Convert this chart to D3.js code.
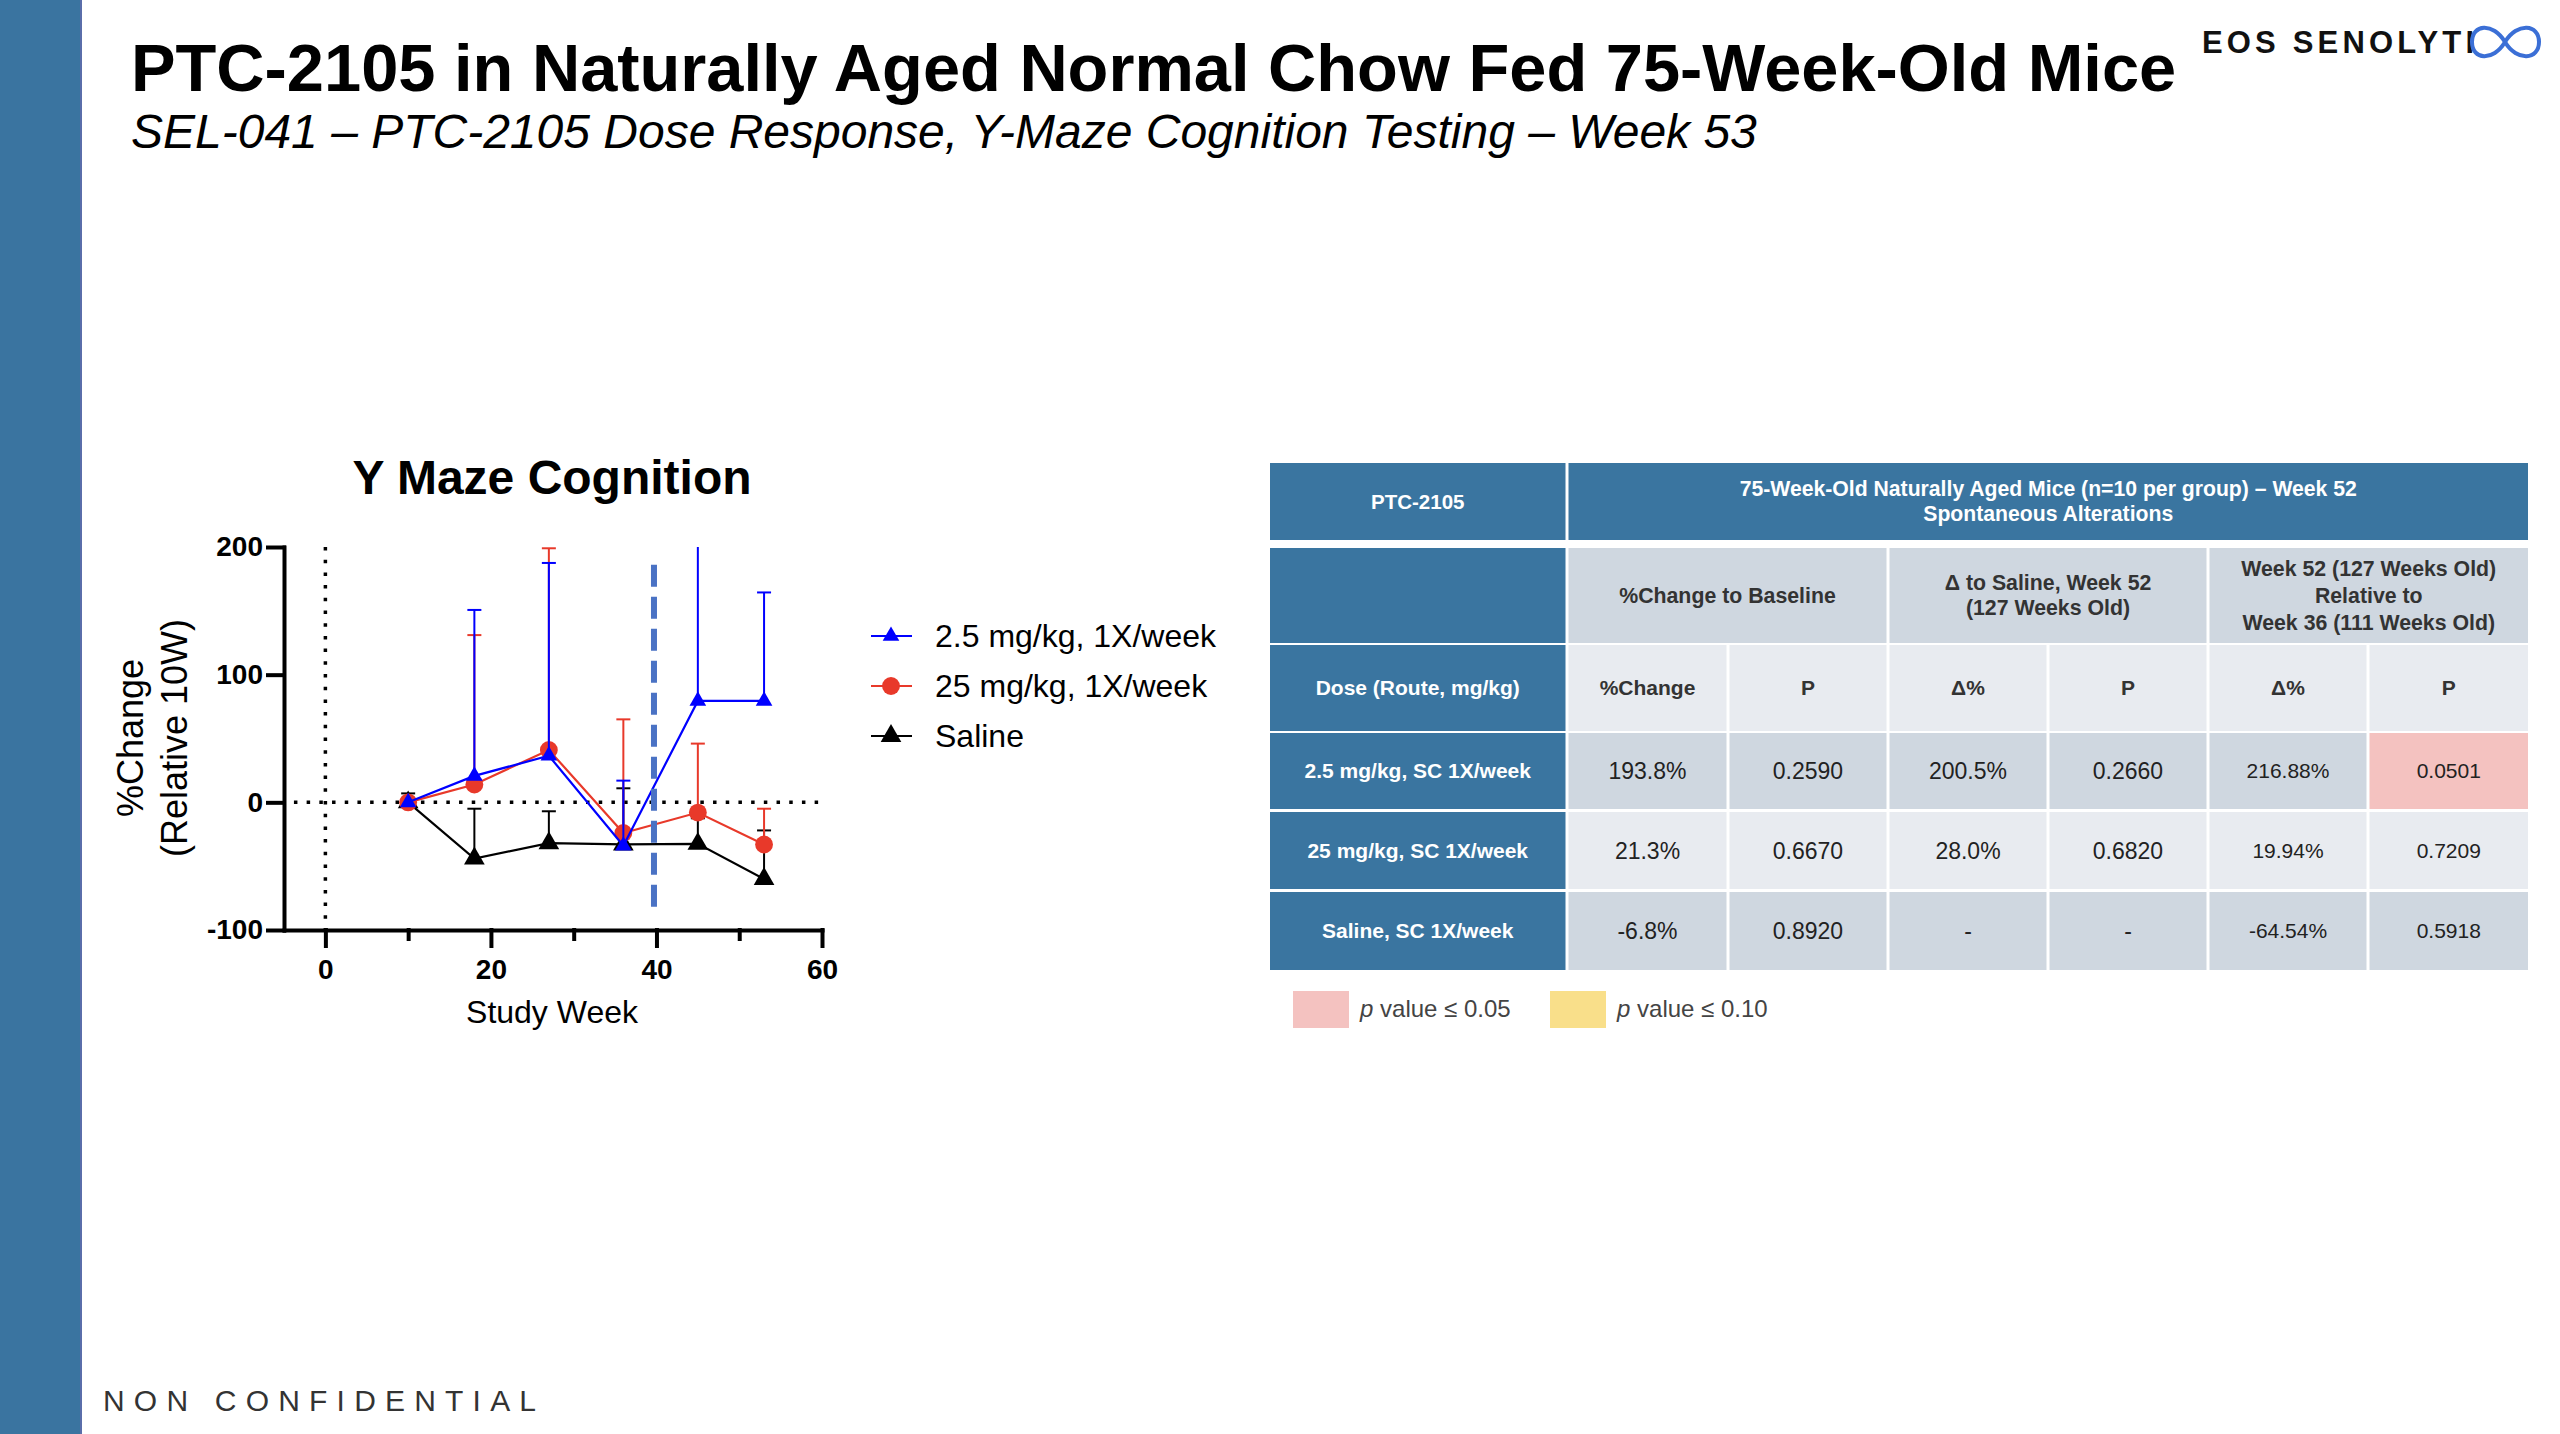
<!DOCTYPE html>
<html>
<head>
<meta charset="utf-8">
<script src="https://cdn.jsdelivr.net/npm/d3@7"></script>
<style>
  body { margin: 0; background: #fff; }
  text { font-family: "Liberation Sans", Arial, sans-serif; }
</style>
</head>
<body>
<svg></svg>
<script>
// chart data
const weeks = [10, 18, 27, 36, 45, 53];
const seriesNames = ['2.5 mg/kg, 1X/week', '25 mg/kg, 1X/week', 'Saline'];
const lowDose = [0, 20.7, 36.5, -34, 79.4, 79.4];
const lowDoseErr = [0, 130, 151, 51, 140, 85];
const highDose = [0, 14, 41, -24, -8, -33];
const highDoseErr = [0, 117, 158, 89, 54, 28];
const saline = [0, -44, -32, -33, -32.5, -60];
const salineErr = [7, 39, 25, 44, 20, 38];
const xTicks = [0, 20, 40, 60];
const xMinorTicks = [10, 30, 50];
const yTicks = [-100, 0, 100, 200];
const dashedWeek = 39.7;

// table data
const colHeads = ['%Change', 'P', 'Δ%', 'P', 'Δ%', 'P'];
const groupHeads = [['%Change to Baseline'], ['Δ to Saline, Week 52', '(127 Weeks Old)'],
  ['Week 52 (127 Weeks Old)', 'Relative to', 'Week 36 (111 Weeks Old)']];
const doses = ['2.5 mg/kg, SC 1X/week', '25 mg/kg, SC 1X/week', 'Saline, SC 1X/week'];
const pctChange = ['193.8%', '21.3%', '-6.8%'];
const pctChangeP = ['0.2590', '0.6670', '0.8920'];
const deltaSaline = ['200.5%', '28.0%', '-'];
const deltaSalineP = ['0.2660', '0.6820', '-'];
const deltaWk36 = ['216.88%', '19.94%', '-64.54%'];
const deltaWk36P = ['0.0501', '0.7209', '0.5918'];
const pinkCells = [[0, 5]];

const size = {w: 2560, h: 1434};
const svg = d3.select('svg').attr('width', size.w).attr('height', size.h);

// slide frame
svg.append('rect').attr('x', 0).attr('y', 0).attr('width', 80).attr('height', size.h).attr('fill', '#3a74a0');
svg.append('line').attr('x1', 81).attr('x2', 81).attr('y1', 0).attr('y2', size.h)
  .attr('stroke', '#5a6eaa').attr('stroke-width', 2);

svg.append('text').attr('x', 131).attr('y', 91)
  .attr('font-size', 66.8).attr('font-weight', 'bold')
  .text('PTC-2105 in Naturally Aged Normal Chow Fed 75-Week-Old Mice');
svg.append('text').attr('x', 131).attr('y', 148)
  .attr('font-size', 48).attr('font-style', 'italic')
  .text('SEL-041 – PTC-2105 Dose Response, Y-Maze Cognition Testing – Week 53');

svg.append('text').attr('x', 103).attr('y', 1411)
  .attr('font-size', 30).attr('letter-spacing', 9.2).attr('fill', '#333')
  .text('NON CONFIDENTIAL');

// logo
const logo = svg.append('g');
logo.append('text').attr('x', 2202).attr('y', 53)
  .attr('font-family', 'Lato').attr('font-size', 31).attr('font-weight', 700)
  .attr('textLength', 272).attr('lengthAdjust', 'spacing').attr('fill', '#111')
  .text('EOS SENOLYTI');
logo.append('path')
  .attr('d', 'M2505,42 C2493,22 2472,24 2472,42 C2472,60 2493,62 2505,42 C2517,22 2539,24 2539,42 C2539,60 2517,62 2505,42 Z')
  .attr('fill', 'none').attr('stroke', '#3b6fd6').attr('stroke-width', 4);

// chart
const x = d3.scaleLinear().domain([-5, 60]).range([284, 822]);
const y = d3.scaleLinear().domain([-100, 200]).range([930, 547]);

svg.append('defs').append('clipPath').attr('id', 'plot')
  .append('rect').attr('x', 284).attr('y', y(200)).attr('width', 560).attr('height', y(-100) - y(200));

svg.append('text').attr('x', 552).attr('y', 494)
  .attr('text-anchor', 'middle').attr('font-size', 48).attr('font-weight', 'bold')
  .text('Y Maze Cognition');

// reference lines
svg.append('line').attr('x1', x(0)).attr('x2', x(0)).attr('y1', y(200)).attr('y2', y(-100))
  .attr('stroke', '#000').attr('stroke-width', 3.5).attr('stroke-dasharray', '3.5 9.2');
svg.append('line').attr('x1', x(-3.8)).attr('x2', x(60)).attr('y1', y(0)).attr('y2', y(0))
  .attr('stroke', '#000').attr('stroke-width', 3.5).attr('stroke-dasharray', '3.5 9.2');

const yAxis = svg.append('g').attr('transform', 'translate(284,0)')
  .call(d3.axisLeft(y).tickValues(yTicks).tickSize(16).tickSizeOuter(0).tickPadding(5)
    .tickFormat(d => String(d)));
const xAxis = svg.append('g').attr('transform', 'translate(0,930)')
  .call(d3.axisBottom(x).tickValues(xTicks).tickSize(16).tickSizeOuter(0).tickPadding(13)
    .tickFormat(d => String(d)));
svg.append('g').attr('transform', 'translate(0,930)')
  .call(d3.axisBottom(x).tickValues(xMinorTicks).tickSize(9).tickSizeOuter(0).tickFormat(''))
  .select('.domain').remove();
svg.selectAll('.tick line, .domain').attr('stroke', '#000').attr('stroke-width', 4).attr('stroke-linecap', 'square');
[yAxis, xAxis].forEach(a => a.selectAll('text')
  .attr('font-size', 28).attr('font-weight', 'bold').attr('fill', '#000')
  .attr('font-family', '"Liberation Sans", Arial, sans-serif'));

svg.append('text').attr('x', 552).attr('y', 1023)
  .attr('text-anchor', 'middle').attr('font-size', 32).text('Study Week');
const yLab = svg.append('text').attr('transform', 'translate(143,738) rotate(-90)')
  .attr('text-anchor', 'middle').attr('font-size', 36);
yLab.append('tspan').attr('x', 0).attr('y', 0).text('%Change');
yLab.append('tspan').attr('x', 0).attr('y', 44).text('(Relative 10W)');

const tri = s => d3.symbol(d3.symbolTriangle, s)();
const series = [
  {name: seriesNames[2], vals: saline, err: salineErr, color: '#000', line: '#000', marker: tri(185)},
  {name: seriesNames[1], vals: highDose, err: highDoseErr, color: '#e8392a', line: '#e8392a', marker: d3.symbol(d3.symbolCircle, 250)()},
  {name: seriesNames[0], vals: lowDose, err: lowDoseErr, color: '#0000ff', line: '#0000ff', marker: tri(120)}
];

const plot = svg.append('g').attr('clip-path', 'url(#plot)');
const line = d3.line().x(d => x(d[0])).y(d => y(d[1]));
series.forEach(s => {
  const pts = weeks.map((w, i) => [w, s.vals[i], s.err[i]]);
  const g = plot.append('g');
  const eb = g.selectAll('g.err').data(pts.filter(d => d[2] > 0)).join('g');
  eb.append('line').attr('x1', d => x(d[0])).attr('x2', d => x(d[0]))
    .attr('y1', d => y(d[1])).attr('y2', d => y(d[1] + d[2]))
    .attr('stroke', s.line).attr('stroke-width', 2);
  eb.append('line').attr('x1', d => x(d[0]) - 7).attr('x2', d => x(d[0]) + 7)
    .attr('y1', d => y(d[1] + d[2])).attr('y2', d => y(d[1] + d[2]))
    .attr('stroke', s.line).attr('stroke-width', 2);
  g.append('path').attr('d', line(pts)).attr('fill', 'none')
    .attr('stroke', s.line).attr('stroke-width', 2.2);
  g.selectAll('path.m').data(pts).join('path').attr('class', 'm')
    .attr('d', s.marker).attr('fill', s.color)
    .attr('transform', d => `translate(${x(d[0])},${y(d[1])})`);
});

svg.append('line').attr('x1', x(dashedWeek)).attr('x2', x(dashedWeek))
  .attr('y1', y(186)).attr('y2', y(-82))
  .attr('stroke', '#4a72c4').attr('stroke-width', 6).attr('stroke-dasharray', '22 10');

// legend
const leg = svg.append('g').selectAll('g').data(series.slice().reverse()).join('g')
  .attr('transform', (d, i) => `translate(0,${647 + i * 50})`);
leg.append('line').attr('x1', 871).attr('x2', 912).attr('y1', -11).attr('y2', -11)
  .attr('stroke', d => d.line).attr('stroke-width', 2);
leg.append('path').attr('d', d => d.marker).attr('fill', d => d.color)
  .attr('transform', 'translate(891,-11)');
leg.append('text').attr('x', 935).attr('y', 0).attr('font-size', 32).text(d => d.name);

// table
const colEdges = [1270, 1567, 1728, 1888, 2048, 2208, 2368, 2528];
const rowEdges = [[463, 540], [548, 643], [645, 731], [733, 809], [812, 889], [892, 970]];
const headBlue = '#3a75a0', darkCell = '#cfd7e0', lightCell = '#e8ebf0';
const tbl = svg.append('g');

function cell(c0, c1, r, fill) {
  const x0 = colEdges[c0] + (c0 > 0 ? 1.5 : 0);
  const x1 = colEdges[c1] - (c1 < colEdges.length - 1 ? 1.5 : 0);
  tbl.append('rect').attr('x', x0).attr('y', rowEdges[r][0])
    .attr('width', x1 - x0).attr('height', rowEdges[r][1] - rowEdges[r][0]).attr('fill', fill);
  return (x0 + x1) / 2;
}
function label(cx, r, lines, opts) {
  const cy = (rowEdges[r][0] + rowEdges[r][1]) / 2;
  const lh = opts.lh || 25;
  const t = tbl.append('text').attr('text-anchor', 'middle')
    .attr('font-size', opts.size).attr('font-weight', opts.bold ? 'bold' : 'normal')
    .attr('fill', opts.color);
  lines.forEach((s, i) => t.append('tspan').attr('x', cx)
    .attr('y', cy + (i - (lines.length - 1) / 2) * lh).attr('dy', '0.35em').text(s));
}

label(cell(0, 1, 0, headBlue), 0, ['PTC-2105'], {size: 20.5, bold: true, color: '#fff'});
label(cell(1, 7, 0, headBlue), 0, ['75-Week-Old Naturally Aged Mice (n=10 per group) – Week 52', 'Spontaneous Alterations'],
  {size: 21.2, bold: true, color: '#fff', lh: 25});
cell(0, 1, 1, headBlue);
groupHeads.forEach((g, i) => {
  label(cell(1 + i * 2, 3 + i * 2, 1, darkCell), 1, g, {size: 21.3, bold: true, color: '#333', lh: g.length > 2 ? 27 : 25});
});
label(cell(0, 1, 2, headBlue), 2, ['Dose (Route, mg/kg)'], {size: 21, bold: true, color: '#fff'});
colHeads.forEach((h, i) => label(cell(i + 1, i + 2, 2, lightCell), 2, [h], {size: 21, bold: true, color: '#333'}));

const tableCols = [pctChange, pctChangeP, deltaSaline, deltaSalineP, deltaWk36, deltaWk36P];
doses.forEach((d, r) => {
  const row = r + 3;
  const bg = r % 2 === 0 ? darkCell : lightCell;
  label(cell(0, 1, row, headBlue), row, [d], {size: 21, bold: true, color: '#fff'});
  tableCols.forEach((col, c) => {
    const pink = pinkCells.some(p => p[0] === r && p[1] === c);
    label(cell(c + 1, c + 2, row, pink ? '#f4c2c0' : bg), row, [col[r]],
      {size: c < 4 ? 23 : 21, color: '#222'});
  });
});

// p-value key
const key = [{fill: '#f4c2c0', x: 1293, t: ' value ≤ 0.05'}, {fill: '#f9df8a', x: 1550, t: ' value ≤ 0.10'}];
key.forEach(k => {
  svg.append('rect').attr('x', k.x).attr('y', 991).attr('width', 56).attr('height', 37).attr('fill', k.fill);
  const t = svg.append('text').attr('x', k.x + 67).attr('y', 1017).attr('font-size', 24).attr('fill', '#444');
  t.append('tspan').attr('font-style', 'italic').text('p');
  t.append('tspan').text(k.t);
});
</script>
</body>
</html>
